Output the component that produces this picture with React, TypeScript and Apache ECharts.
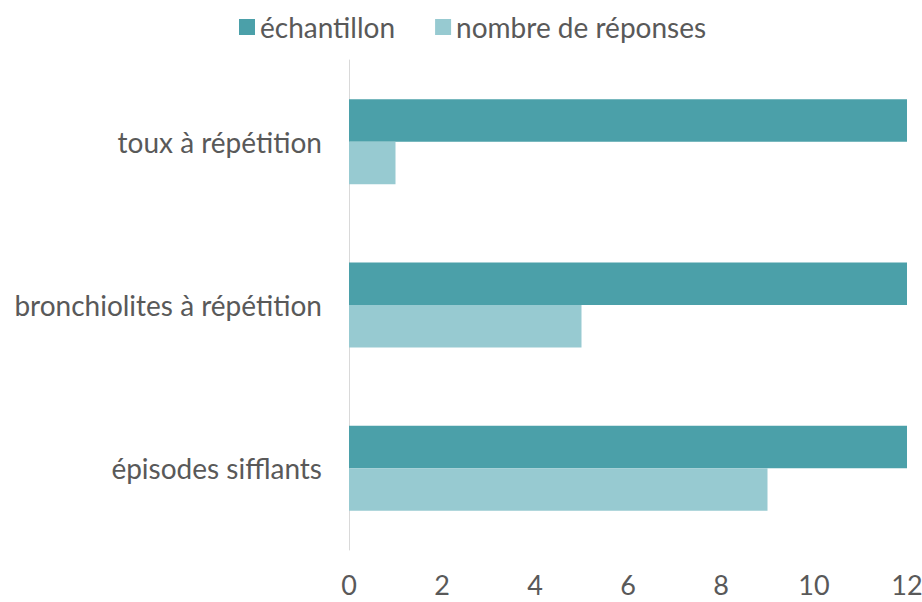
import React, { useEffect, useRef } from "react";
import * as echarts from "echarts";

const categories = ["épisodes sifflants", "bronchiolites à répétition", "toux à répétition"];
const echantillon = [12, 12, 12];
const reponses = [9, 5, 1];
const seriesNames = ["échantillon", "nombre de réponses"];
const xTicks = { min: 0, max: 12, interval: 2 };

export default function App() {
  const ref = useRef<HTMLDivElement>(null);
  useEffect(() => {
    if (!ref.current) return;
    const chart = echarts.init(ref.current, undefined, { renderer: "svg" });
    const font = "Lato, 'Open Sans', sans-serif";
    chart.setOption({
      animation: false,
      textStyle: { fontFamily: font },
      legend: {
        top: 8,
        left: 234,
        itemWidth: 16,
        itemHeight: 16,
        itemGap: 40,
        icon: "rect",
        textStyle: { fontSize: 28, color: "#595959", fontFamily: font },
        data: seriesNames,
      },
      grid: {
        left: 349,
        right: 15,
        top: 60,
        bottom: 52,
        containLabel: false,
        outerBoundsMode: "none",
      },
      xAxis: {
        type: "value",
        min: xTicks.min,
        max: xTicks.max,
        interval: xTicks.interval,
        axisLine: { show: false },
        axisTick: { show: false },
        splitLine: { show: false },
        axisLabel: { fontSize: 27, color: "#595959", margin: 21, fontFamily: font },
      },
      yAxis: {
        type: "category",
        data: categories,
        axisLine: { show: true, lineStyle: { color: "#d9d9d9", width: 1 } },
        axisTick: { show: false },
        axisLabel: { fontSize: 28, color: "#595959", margin: 27, fontFamily: font },
      },
      series: [
        {
          name: seriesNames[0],
          type: "bar",
          data: echantillon,
          itemStyle: { color: "#4BA0A9" },
          barGap: "0%",
          barCategoryGap: "48%",
        },
        {
          name: seriesNames[1],
          type: "bar",
          data: reponses,
          itemStyle: { color: "#97CAD1" },
          barGap: "0%",
          barCategoryGap: "48%",
        },
      ],
    });
    return () => chart.dispose();
  }, []);
  return (
    <div
      ref={ref}
      style={{ width: 922, height: 602, position: "absolute", left: 0, top: 0 }}
    />
  );
}
